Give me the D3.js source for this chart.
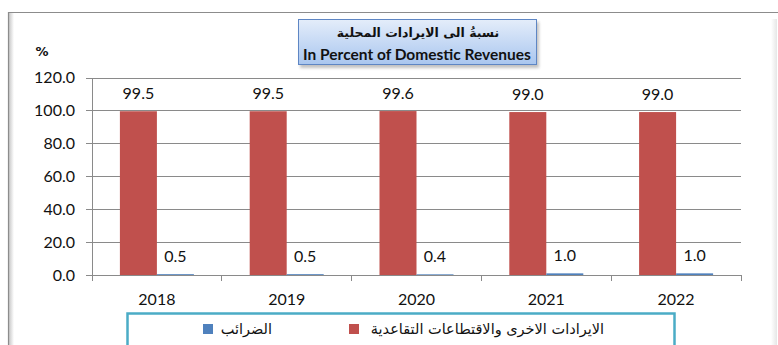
<!DOCTYPE html>
<html>
<head>
<meta charset="utf-8">
<script src="https://cdn.jsdelivr.net/npm/d3@7"></script>
<style>
  html, body { margin: 0; padding: 0; background: #fff; }
  svg { display: block; }
</style>
</head>
<body>
<svg id="chart" width="778" height="345"></svg>
<script>
// Share of domestic revenues, by year
const years = ["2018", "2019", "2020", "2021", "2022"];
const seriesKeys = ["other", "taxes"];
const otherRevenue = [99.5, 99.5, 99.6, 99.0, 99.0];   // الايرادات الاخرى والاقتطاعات التقاعدية
const taxes = [0.5, 0.5, 0.4, 1.0, 1.0];               // الضرائب
const yTicks = [0, 20, 40, 60, 80, 100, 120];
const seriesNames = {
  other: "الايرادات الاخرى والاقتطاعات التقاعدية",
  taxes: "الضرائب"
};
const titleAr = "نسبةُ الى الايرادات المحلية";
const titleEn = "In Percent of Domestic Revenues";

const colors = { other: "#C0504D", taxes: "#4F81BD" };
const numFont = "Lato, 'Open Sans', sans-serif";

const svg = d3.select("#chart");
const defs = svg.append("defs");

const plotLeft = 92, plotRight = 741, plotTop = 77.5, plotBottom = 275;

// outer frame
const shade = defs.append("linearGradient").attr("id", "leftShade")
  .attr("x1", 0).attr("x2", 1).attr("y1", 0).attr("y2", 0);
shade.append("stop").attr("offset", 0).attr("stop-color", "#c8c8c8");
shade.append("stop").attr("offset", 1).attr("stop-color", "#ffffff");
svg.append("rect").attr("x", 9).attr("y", 13).attr("width", 5).attr("height", 340)
  .attr("fill", "url(#leftShade)");
const shadeR = defs.append("linearGradient").attr("id", "rightShade")
  .attr("x1", 0).attr("x2", 1).attr("y1", 0).attr("y2", 0);
shadeR.append("stop").attr("offset", 0).attr("stop-color", "#ffffff");
shadeR.append("stop").attr("offset", 1).attr("stop-color", "#e6e6e6");
svg.append("rect").attr("x", 771).attr("y", 19).attr("width", 6).attr("height", 330)
  .attr("fill", "url(#rightShade)");
svg.append("path").attr("d", "M8.5,345 V12.5 H778")
  .attr("fill", "none").attr("stroke", "#8c8c8c").attr("stroke-width", 1.2);

// scales
const x = d3.scaleBand().domain(years).range([plotLeft, plotRight]).padding(0);
const xs = d3.scaleBand().domain(seriesKeys).range([0, x.bandwidth()])
  .paddingInner(0).paddingOuter(0.754);
const y = d3.scaleLinear().domain([0, 120]).range([plotBottom, plotTop]);

// horizontal gridlines
svg.append("g")
  .attr("transform", `translate(${plotLeft},0)`)
  .call(d3.axisLeft(y).tickValues(yTicks).tickSize(-(plotRight - plotLeft)).tickFormat(""))
  .call(g => g.select(".domain").remove())
  .call(g => g.selectAll("line").attr("stroke", "#8a8a8a").attr("shape-rendering", "crispEdges"));

// y axis
svg.append("g")
  .attr("transform", `translate(${plotLeft},0)`)
  .call(d3.axisLeft(y).tickValues(yTicks).tickSize(6).tickPadding(11).tickFormat(d3.format(".1f")))
  .call(g => g.selectAll("line, path").attr("stroke", "#8a8a8a").attr("shape-rendering", "crispEdges"))
  .call(g => g.selectAll("text").attr("font-family", numFont).attr("font-size", 16).attr("fill", "#111"));

// bars
const data = years.map((yr, i) => ({ year: yr, other: otherRevenue[i], taxes: taxes[i] }));
const groups = svg.append("g").selectAll("g").data(data).join("g")
  .attr("transform", d => `translate(${x(d.year)},0)`);

groups.selectAll("rect")
  .data(d => seriesKeys.map(k => ({ key: k, value: d[k] })))
  .join("rect")
  .attr("x", d => xs(d.key))
  .attr("width", xs.bandwidth())
  .attr("y", d => y(d.value))
  .attr("height", d => y(0) - y(d.value))
  .attr("fill", d => colors[d.key]);

// value labels
groups.selectAll("text.val")
  .data(d => seriesKeys.map(k => ({ key: k, value: d[k] })))
  .join("text")
  .attr("class", "val")
  .attr("x", d => xs(d.key) + xs.bandwidth() / 2)
  .attr("y", d => y(d.value) - 18)
  .attr("dy", "0.36em")
  .attr("text-anchor", "middle")
  .attr("font-family", numFont)
  .attr("font-size", 16)
  .attr("fill", "#111")
  .text(d => d3.format(".1f")(d.value));

// x axis: baseline, boundary ticks, year labels
const xAxis = svg.append("g");
xAxis.append("line")
  .attr("x1", plotLeft).attr("x2", plotRight).attr("y1", y(0)).attr("y2", y(0))
  .attr("stroke", "#8a8a8a").attr("shape-rendering", "crispEdges");
const bounds = years.map(yr => x(yr)).concat([x.range()[1]]);
xAxis.selectAll("line.tick").data(bounds).join("line")
  .attr("class", "tick")
  .attr("x1", d => d).attr("x2", d => d)
  .attr("y1", y(0)).attr("y2", y(0) + 6)
  .attr("stroke", "#8a8a8a").attr("shape-rendering", "crispEdges");
xAxis.selectAll("text").data(years).join("text")
  .attr("x", d => x(d) + x.bandwidth() / 2)
  .attr("y", 299)
  .attr("dy", "0.36em")
  .attr("text-anchor", "middle")
  .attr("font-family", numFont)
  .attr("font-size", 16)
  .attr("fill", "#111")
  .text(d => d);

// unit label
svg.append("text")
  .attr("x", 42).attr("y", 51).attr("dy", "0.36em")
  .attr("text-anchor", "middle")
  .attr("font-family", "'DejaVu Sans', sans-serif")
  .attr("font-weight", "bold")
  .attr("font-size", 13)
  .attr("fill", "#111")
  .text("%");

// title box
const tg = defs.append("linearGradient").attr("id", "titleFill")
  .attr("x1", 0).attr("x2", 0).attr("y1", 0).attr("y2", 1);
tg.append("stop").attr("offset", 0).attr("stop-color", "#e4edfa");
tg.append("stop").attr("offset", 1).attr("stop-color", "#a9c6ef");
const blur = defs.append("filter").attr("id", "shadow")
  .attr("x", "-10%").attr("y", "-20%").attr("width", "130%").attr("height", "160%");
blur.append("feGaussianBlur").attr("stdDeviation", 1.5);

svg.append("rect").attr("x", 300).attr("y", 22).attr("width", 239).attr("height", 46)
  .attr("fill", "#9a9a9a").attr("opacity", 0.6).attr("filter", "url(#shadow)");
svg.append("rect").attr("x", 298.5).attr("y", 19.5).attr("width", 238).attr("height", 45)
  .attr("fill", "url(#titleFill)").attr("stroke", "#5e86c4").attr("stroke-width", 1);
svg.append("text")
  .attr("x", 418).attr("y", 32).attr("dy", "0.36em")
  .attr("text-anchor", "middle")
  .attr("direction", "rtl")
  .attr("font-family", "'DejaVu Sans', sans-serif")
  .attr("font-weight", "bold")
  .attr("font-size", 12.5)
  .attr("fill", "#111")
  .text(titleAr);
svg.append("text")
  .attr("x", 417).attr("y", 54).attr("dy", "0.36em")
  .attr("text-anchor", "middle")
  .attr("font-family", "Lato, sans-serif")
  .attr("font-weight", "bold")
  .attr("font-size", 15.5)
  .attr("fill", "#111")
  .text(titleEn);

// legend
svg.append("rect").attr("x", 127.5).attr("y", 313.5).attr("width", 547).attr("height", 40)
  .attr("fill", "#fff").attr("stroke", "#4bacc6").attr("stroke-width", 2.5);

const legendItems = [
  { key: "taxes", sx: 203, tx: 272 },
  { key: "other", sx: 349, tx: 604 }
];
const lg = svg.append("g").selectAll("g").data(legendItems).join("g");
lg.append("rect")
  .attr("x", d => d.sx).attr("y", 324).attr("width", 10).attr("height", 10)
  .attr("fill", d => colors[d.key]);
lg.append("text")
  .attr("x", d => d.tx).attr("y", 329).attr("dy", "0.36em")
  .attr("text-anchor", "start")
  .attr("direction", "rtl")
  .attr("font-family", "'DejaVu Sans', sans-serif")
  .attr("font-size", 14.5)
  .attr("fill", "#111")
  .text(d => seriesNames[d.key]);
</script>
</body>
</html>
